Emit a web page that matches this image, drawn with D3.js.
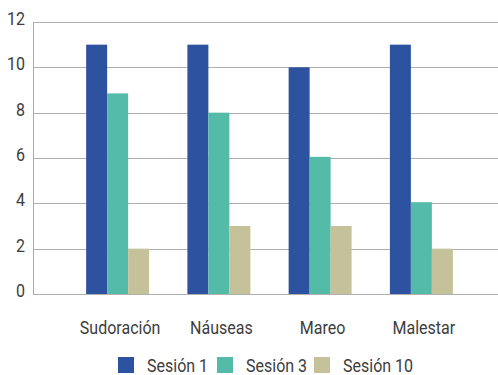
<!DOCTYPE html>
<html>
<head>
<meta charset="utf-8">
<script src="https://cdn.jsdelivr.net/npm/d3@7"></script>
<style>
  body { margin: 0; background: #fff; }
  text { font-family: Roboto, "Liberation Sans", sans-serif; fill: #3d3d3d; }
</style>
</head>
<body>
<div id="chart"></div>
<script>
// Chart data
var categories = ["Sudoración", "Náuseas", "Mareo", "Malestar"];
var seriesNames = ["Sesión 1", "Sesión 3", "Sesión 10"];
var sesion1 = [11, 11, 10, 11];
var sesion3 = [8.85, 8, 6.05, 4.05];
var sesion10 = [2, 3, 3, 2];
var yTicks = [0, 2, 4, 6, 8, 10, 12];
var colors = ["#2d52a0", "#55bba9", "#c5c19b"];

var width = 498, height = 375;
var plot = { left: 33, right: 498, top: 22, bottom: 294 };
var squeeze = 0.89; // narrow, condensed-looking labels

var svg = d3.select("#chart").append("svg")
  .attr("width", width)
  .attr("height", height);

var series = [sesion1, sesion3, sesion10];
var data = categories.map(function(c, i) {
  return { cat: c, values: series.map(function(s, j) { return { key: seriesNames[j], value: s[i] }; }) };
});

var y = d3.scaleLinear().domain([0, 12]).range([plot.bottom, plot.top]);

var x0 = d3.scaleBand()
  .domain(categories)
  .range([67, 472])
  .paddingInner(0.378)
  .paddingOuter(0.189);

var x1 = d3.scaleBand()
  .domain(seriesNames)
  .range([0, x0.bandwidth()]);

// gridlines
svg.append("g")
  .selectAll("line")
  .data(yTicks)
  .enter().append("line")
  .attr("x1", plot.left)
  .attr("x2", plot.right)
  .attr("y1", function(d) { return Math.round(y(d)) + 0.5; })
  .attr("y2", function(d) { return Math.round(y(d)) + 0.5; })
  .attr("stroke", "#b0b0b0")
  .attr("stroke-width", 1.2);

// y axis line
svg.append("line")
  .attr("x1", plot.left + 0.5).attr("x2", plot.left + 0.5)
  .attr("y1", Math.round(y(12))).attr("y2", Math.round(y(0)) + 1)
  .attr("stroke", "#aaa");

// y tick labels
svg.append("g")
  .selectAll("text")
  .data(yTicks)
  .enter().append("text")
  .attr("transform", function(d) { return "translate(25," + (y(d) + 3) + ") scale(" + squeeze + ",1)"; })
  .attr("text-anchor", "end")
  .attr("font-size", 18)
  .text(function(d) { return d; });

// bars
var groups = svg.append("g")
  .selectAll("g")
  .data(data)
  .enter().append("g")
  .attr("transform", function(d) { return "translate(" + x0(d.cat) + ",0)"; });

groups.selectAll("rect")
  .data(function(d) { return d.values; })
  .enter().append("rect")
  .attr("x", function(d) { return x1(d.key); })
  .attr("width", x1.bandwidth())
  .attr("y", function(d) { return y(d.value); })
  .attr("height", function(d) { return y(0) - y(d.value); })
  .attr("fill", function(d, i) { return colors[i]; });

// category labels
svg.append("g")
  .selectAll("text")
  .data(categories)
  .enter().append("text")
  .attr("transform", function(d) {
    return "translate(" + (x0(d) + x0.bandwidth() / 2 + 2.5) + ",334) scale(" + squeeze + ",1)";
  })
  .attr("text-anchor", "middle")
  .attr("font-size", 18)
  .text(function(d) { return d; });

// legend
var legendX = [118, 217, 314];
var legend = svg.append("g")
  .selectAll("g")
  .data(seriesNames)
  .enter().append("g")
  .attr("transform", function(d, i) { return "translate(" + legendX[i] + ",357)"; });

legend.append("rect")
  .attr("width", 16)
  .attr("height", 16)
  .attr("fill", function(d, i) { return colors[i]; });

legend.append("text")
  .attr("transform", "translate(29,15) scale(" + squeeze + ",1)")
  .attr("font-size", 18)
  .text(function(d) { return d; });
</script>
</body>
</html>
